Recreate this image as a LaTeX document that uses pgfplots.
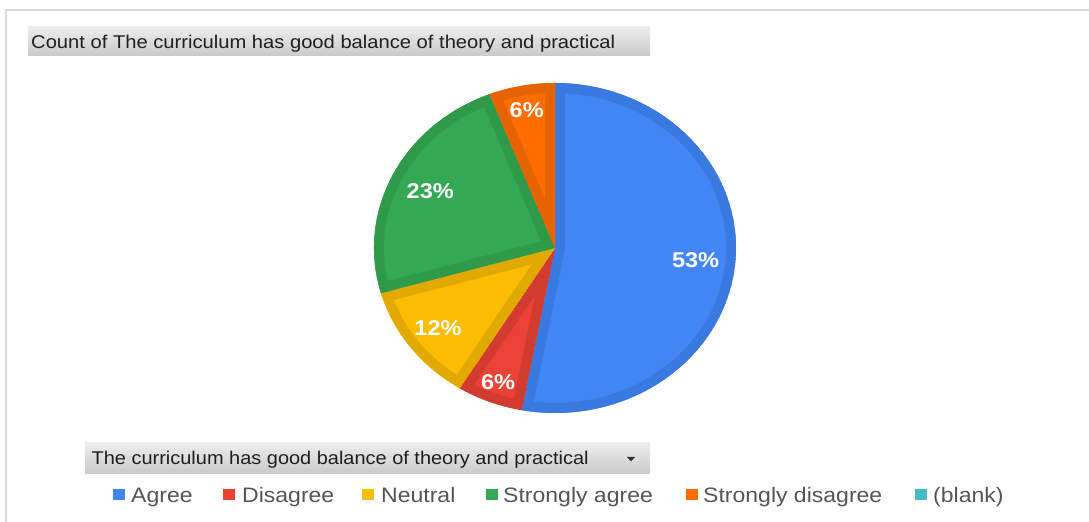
\documentclass[border=0pt]{standalone}
\usepackage{pgfplots}
\pgfplotsset{compat=1.18}
\usepackage{pgfplotstable}
\usepackage{graphicx}
\usepackage{fontspec}
\setmainfont{Liberation Sans}
\newfontfamily\legfont[FakeStretch=1.1]{Liberation Sans}
\newfontfamily\titfont{Liberation Sans}

\definecolor{agree}{HTML}{4285F4}\definecolor{agreeD}{HTML}{3A79E0}
\definecolor{dis}{HTML}{EA4335}\definecolor{disD}{HTML}{D23B2F}
\definecolor{neu}{HTML}{FBBC04}\definecolor{neuD}{HTML}{E3A903}
\definecolor{sa}{HTML}{34A853}\definecolor{saD}{HTML}{2E9A4A}
\definecolor{sd}{HTML}{FF6D01}\definecolor{sdD}{HTML}{E56300}
\definecolor{blank}{HTML}{46BDC6}
\definecolor{framegray}{HTML}{DADADA}
\definecolor{legtext}{HTML}{555555}

% counts per answer (17 responses); labels as shown (largest-remainder rounding)
\pgfplotstableread{
cat count
Agree 9
Disagree 1
Neutral 2
StronglyAgree 4
StronglyDisagree 1
}\piedata

\newcommand\pieslice[4]{%
  \begin{scope}
    \clip (axis cs:0,0) -- (axis cs:{cos(#1)},{sin(#1)}) arc[start angle=#1, end angle=#2, x radius=181bp, y radius=165bp] -- cycle;
    \fill[#3] (axis cs:0,0) -- (axis cs:{cos(#1)},{sin(#1)}) arc[start angle=#1, end angle=#2, x radius=181bp, y radius=165bp] -- cycle;
    \draw[#4, line width=20bp] (axis cs:0,0) -- (axis cs:{cos(#1)},{sin(#1)}) arc[start angle=#1, end angle=#2, x radius=181bp, y radius=165bp] -- cycle;
  \end{scope}}
\newcommand\pielabel[4]{% start end radius text
  \node[text=white, font=\legfont\fontsize{21.5}{24}\selectfont\bfseries, inner sep=0pt]
    at (axis cs:{#3*cos((#1+#2)/2)},{#3*sin((#1+#2)/2)}) {#4};}

\begin{document}
\begin{tikzpicture}[x=1bp,y=1bp]
\path[use as bounding box] (0,0) rectangle (1089,522);
% frame
\draw[framegray, line width=2bp] (6,-5) -- (6,512) -- (1095,512);

% compute angles
\pgfplotstablegetelem{0}{count}\of\piedata \pgfmathsetmacro\cA{\pgfplotsretval}
\pgfplotstablegetelem{1}{count}\of\piedata \pgfmathsetmacro\cB{\pgfplotsretval}
\pgfplotstablegetelem{2}{count}\of\piedata \pgfmathsetmacro\cC{\pgfplotsretval}
\pgfplotstablegetelem{3}{count}\of\piedata \pgfmathsetmacro\cD{\pgfplotsretval}
\pgfplotstablegetelem{4}{count}\of\piedata \pgfmathsetmacro\cE{\pgfplotsretval}
\pgfmathsetmacro\tot{\cA+\cB+\cC+\cD+\cE}
\pgfmathsetmacro\aA{90}
\pgfmathsetmacro\aB{\aA-360*\cA/\tot}
\pgfmathsetmacro\aC{\aB-360*\cB/\tot}
\pgfmathsetmacro\aD{\aC-360*\cC/\tot}
\pgfmathsetmacro\aE{\aD-360*\cD/\tot}
\pgfmathsetmacro\aF{\aE-360*\cE/\tot}

% title box
\shade[top color=black!7, bottom color=black!21] (28,466) rectangle (650,495);
\node[anchor=base west, inner sep=0pt, text=black!88, font=\titfont\fontsize{18.5}{20}\selectfont]
  at (31,473) {\resizebox{584bp}{\height}{Count of The curriculum has good balance of theory and practical}};

\begin{axis}[at={(555bp,274bp)}, anchor=center, width=362bp, height=330bp, scale only axis,
  xmin=-1, xmax=1, ymin=-1, ymax=1, hide axis, clip=false]
  \pieslice{\aA}{\aB}{agree}{agreeD}
  \pieslice{\aB}{\aC}{dis}{disD}
  \pieslice{\aC}{\aD}{neu}{neuD}
  \pieslice{\aD}{\aE}{sa}{saD}
  \pieslice{\aE}{\aF}{sd}{sdD}
  \pielabel{\aA}{\aB}{0.78}{53\%}
  \pielabel{\aB}{\aC}{0.87}{6\%}
  \pielabel{\aC}{\aD}{0.81}{12\%}
  \pielabel{\aD}{\aE}{0.77}{23\%}
  \pielabel{\aE}{\aF}{0.85}{6\%}
\end{axis}

% filter box
\shade[top color=black!7, bottom color=black!21] (85,48) rectangle (650,79);
\node[anchor=base west, inner sep=0pt, text=black!88, font=\titfont\fontsize{18.5}{20}\selectfont]
  at (91.5,57) {\resizebox{497bp}{\height}{The curriculum has good balance of theory and practical}};
\fill[black!80] (627,65) -- (635,65) -- (631,60.5) -- cycle;

% legend
\foreach \sx/\tx/\col/\lab in {113/131/agree/Agree, 223/242/dis/Disagree, 362/381/neu/Neutral,
  486/503/sa/Strongly agree, 686/703/sd/Strongly disagree, 915/933/blank/(blank)} {
  \fill[\col] (\sx,21.5) rectangle ++(11.5,11.5);
  \node[anchor=base west, inner sep=0pt, text=legtext, font=\legfont\fontsize{21}{24}\selectfont] at (\tx,19) {\lab};
}
\end{tikzpicture}
\end{document}
